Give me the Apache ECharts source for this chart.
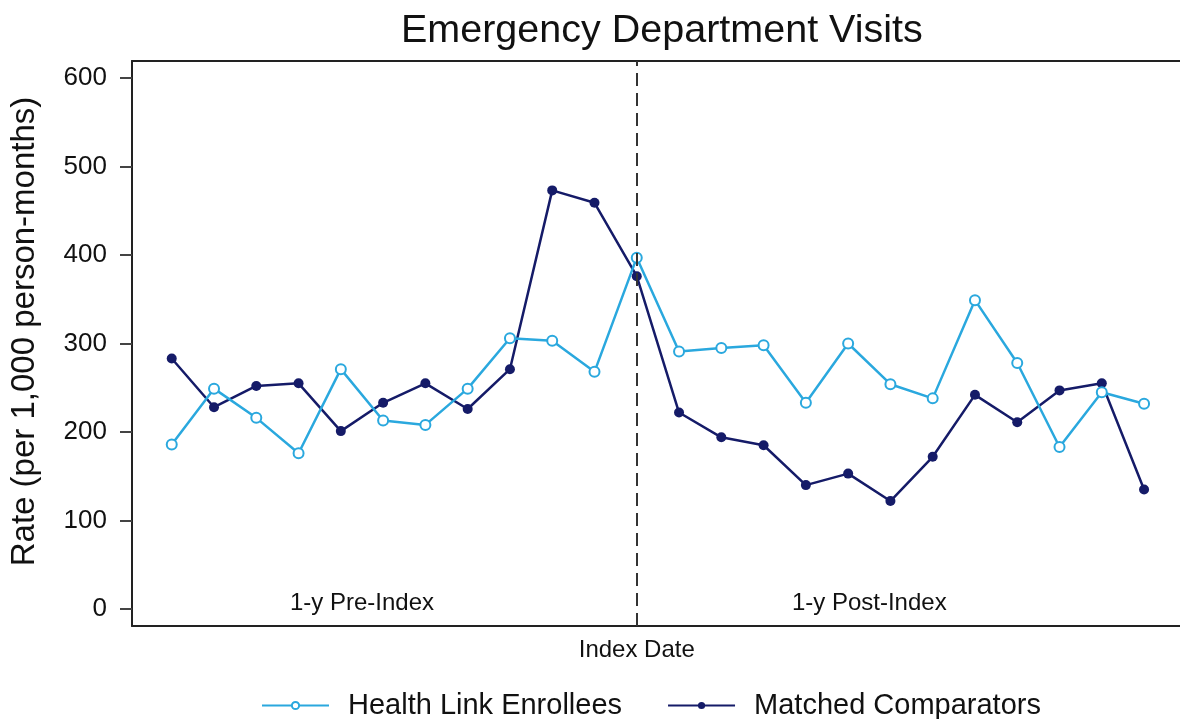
<!DOCTYPE html>
<html>
<head>
<meta charset="utf-8">
<title>Emergency Department Visits</title>
<script src="https://cdn.jsdelivr.net/npm/echarts@6/dist/echarts.min.js"></script>
<style>
  html, body { margin: 0; padding: 0; background: #fff; }
  #chart { width: 1180px; height: 719px; }
</style>
</head>
<body>
<div id="chart"></div>
<script>
// months relative to the index date (0 = index date)
const months = [-11, -10, -9, -8, -7, -6, -5, -4, -3, -2, -1, 0, 1, 2, 3, 4, 5, 6, 7, 8, 9, 10, 11, 12]
const healthLink = [186, 249, 216, 176, 271, 213, 208, 249, 306, 303, 268, 397, 291, 295, 298, 233, 300, 254, 238, 349, 278, 183, 245, 232]
const comparators = [283, 228, 252, 255, 201, 233, 255, 226, 271, 473, 459, 376, 222, 194, 185, 140, 153, 122, 172, 242, 211, 247, 255, 135]
const yTicks = [0, 100, 200, 300, 400, 500, 600]
const indexDate = 0
const periodLabels = ['1-y Pre-Index', '1-y Post-Index']

const font = 'Liberation Sans, Arial, Helvetica, sans-serif'
const lightBlue = '#2aa8de'
const navy = '#151b68'

const chart = echarts.init(document.getElementById('chart'))

const pairs = (xs, ys) => xs.map((x, i) => [x, ys[i]])

chart.setOption({
  animation: false,
  title: {
    text: 'Emergency Department Visits',
    left: 396,
    top: 6,
    textStyle: { fontFamily: font, fontSize: 39.5, fontWeight: 'normal', color: '#111' }
  },
  legend: {
    data: ['Health Link Enrollees', 'Matched Comparators'],
    left: 256,
    top: 686,
    itemWidth: 67,
    itemHeight: 9,
    itemGap: 45,
    textStyle: { fontFamily: font, fontSize: 29, color: '#111', padding: [0, 0, 0, 14] }
  },
  grid: { left: 130, right: 0, top: 61, bottom: 93 },
  xAxis: [
    {
      type: 'value',
      min: -11.94,
      max: 12.85,
      splitLine: { show: false },
      axisLine: { show: true, onZero: false, lineStyle: { color: '#222', width: 2 } },
      axisTick: { show: false },
      axisLabel: {
        customValues: [indexDate],
        formatter: () => 'Index Date',
        margin: 12,
        fontFamily: font,
        fontSize: 24,
        color: '#111'
      }
    },
    {
      // top border of the frame
      type: 'value',
      position: 'top',
      min: 0,
      max: 1,
      splitLine: { show: false },
      axisLine: { show: true, onZero: false, lineStyle: { color: '#222', width: 2 } },
      axisTick: { show: false },
      axisLabel: { show: false }
    }
  ],
  yAxis: {
    type: 'value',
    min: -19.2,
    max: 619.2,
    name: 'Rate (per 1,000 person-months)',
    nameLocation: 'middle',
    nameGap: 91,
    nameTextStyle: { fontFamily: font, fontSize: 33, color: '#111', padding: [0, 0, 0, 24] },
    splitLine: { show: false },
    axisLine: { show: true, onZero: false, lineStyle: { color: '#222', width: 2 } },
    axisTick: { show: true, length: 12, customValues: yTicks, lineStyle: { color: '#444', width: 2 } },
    axisLabel: { customValues: yTicks, margin: 25, fontFamily: font, fontSize: 26, color: '#111' }
  },
  series: [
    {
      name: 'Health Link Enrollees',
      type: 'line',
      data: pairs(months, healthLink),
      symbol: 'emptyCircle',
      symbolSize: 10,
      lineStyle: { color: lightBlue, width: 2.5 },
      itemStyle: { color: lightBlue, borderColor: lightBlue, borderWidth: 2 },
      z: 3,
      markLine: {
        silent: true,
        symbol: 'none',
        label: { show: false },
        lineStyle: { color: '#333', width: 2, type: [13, 7] },
        data: [{ xAxis: indexDate }]
      },
      markPoint: {
        silent: true,
        symbol: 'circle',
        symbolSize: 0,
        label: {
          show: true,
          position: 'inside',
          fontFamily: font,
          fontSize: 24,
          color: '#111'
        },
        data: [
          { coord: [-6.5, 6], value: periodLabels[0], label: { formatter: periodLabels[0] } },
          { coord: [5.5, 6], value: periodLabels[1], label: { formatter: periodLabels[1] } }
        ]
      }
    },
    {
      name: 'Matched Comparators',
      type: 'line',
      data: pairs(months, comparators),
      symbol: 'circle',
      symbolSize: 10,
      lineStyle: { color: navy, width: 2.5 },
      itemStyle: { color: navy },
      z: 2
    }
  ]
})
</script>
</body>
</html>
